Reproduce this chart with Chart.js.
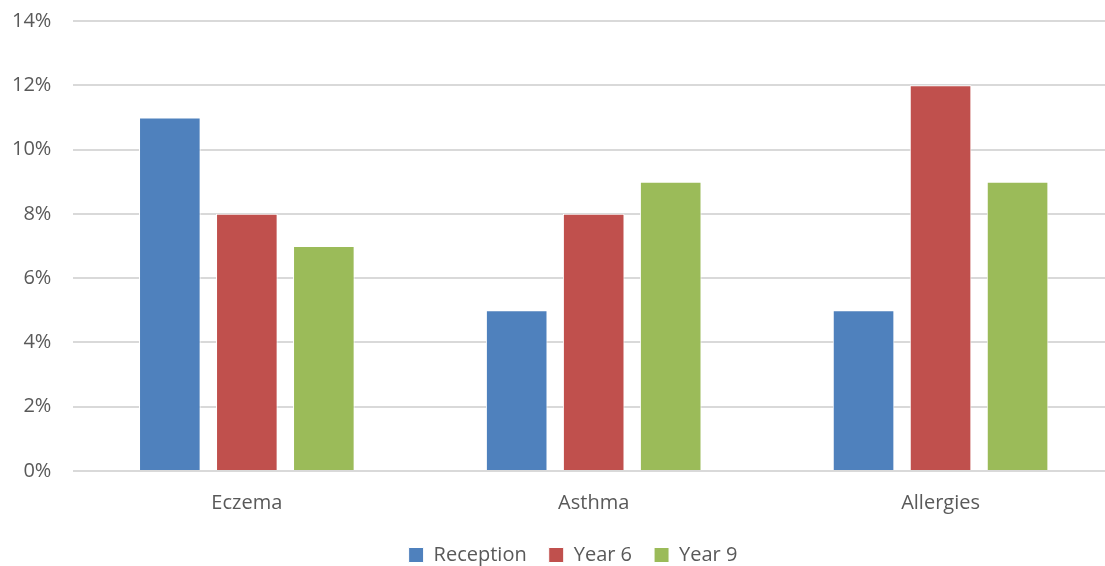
<!DOCTYPE html>
<html>
<head>
<meta charset="utf-8">
<script src="https://cdn.jsdelivr.net/npm/chart.js@4"></script>
<style>
html,body{margin:0;padding:0;background:#fff;overflow:hidden;width:1105px;height:566px;}
#wrap{width:1124px;height:584px;position:absolute;left:-10px;top:-13px;}
</style>
</head>
<body>
<div id="wrap"><canvas id="c"></canvas></div>
<script>
const categories = ["Eczema", "Asthma", "Allergies"];
const reception = [11, 5, 5];
const year6 = [8, 8, 12];
const year9 = [7, 9, 9];
const yTicks = [0, 2, 4, 6, 8, 10, 12, 14];

const FONT = "'Open Sans', 'Noto Sans', sans-serif";
const legendShift = {
  id: 'legendShift',
  afterInit(chart) {
    const lg = chart.legend;
    if (!lg) return;
    const d = lg.draw.bind(lg);
    lg.draw = function (area) {
      const ctx = this.ctx;
      ctx.save();
      ctx.translate(21, 0);
      d(area);
      ctx.restore();
    };
  }
};

new Chart(document.getElementById('c'), {
  type: 'bar',
  data: {
    labels: categories,
    datasets: [
      {label: 'Reception', data: reception, backgroundColor: '#4F81BD', borderColor: '#ffffff', borderWidth: 1},
      {label: 'Year 6', data: year6, backgroundColor: '#C0504D', borderColor: '#ffffff', borderWidth: 1},
      {label: 'Year 9', data: year9, backgroundColor: '#9BBB59', borderColor: '#ffffff', borderWidth: 1}
    ]
  },
  plugins: [legendShift],
  options: {
    responsive: true,
    maintainAspectRatio: false,
    animation: false,
    layout: {padding: {top: -3, left: 0, right: 0, bottom: -4}},
    datasets: {bar: {categoryPercentage: 0.666, barPercentage: 0.8}},
    plugins: {
      legend: {
        position: 'bottom',
        labels: {boxWidth: 15, boxHeight: 15, padding: 22, color: '#595959', font: {family: FONT, size: 20}, useBorderRadius: false}
      },
      tooltip: {enabled: false}
    },
    scales: {
      x: {
        grid: {display: false, drawTicks: false},
        border: {display: false},
        ticks: {color: '#595959', font: {family: FONT, size: 20}, padding: 20},
        afterFit: (ax) => { ax.height -= 12; }
      },
      y: {
        min: 0, max: 14,
        afterBuildTicks: (ax) => { ax.ticks = yTicks.map(v => ({value: v})); },
        grid: {color: '#D9D9D9', lineWidth: 2, drawTicks: false},
        border: {display: false},
        ticks: {color: '#595959', font: {family: FONT, size: 20}, padding: 22, callback: v => v + '%'}
      }
    }
  }
});
</script>
</body>
</html>
